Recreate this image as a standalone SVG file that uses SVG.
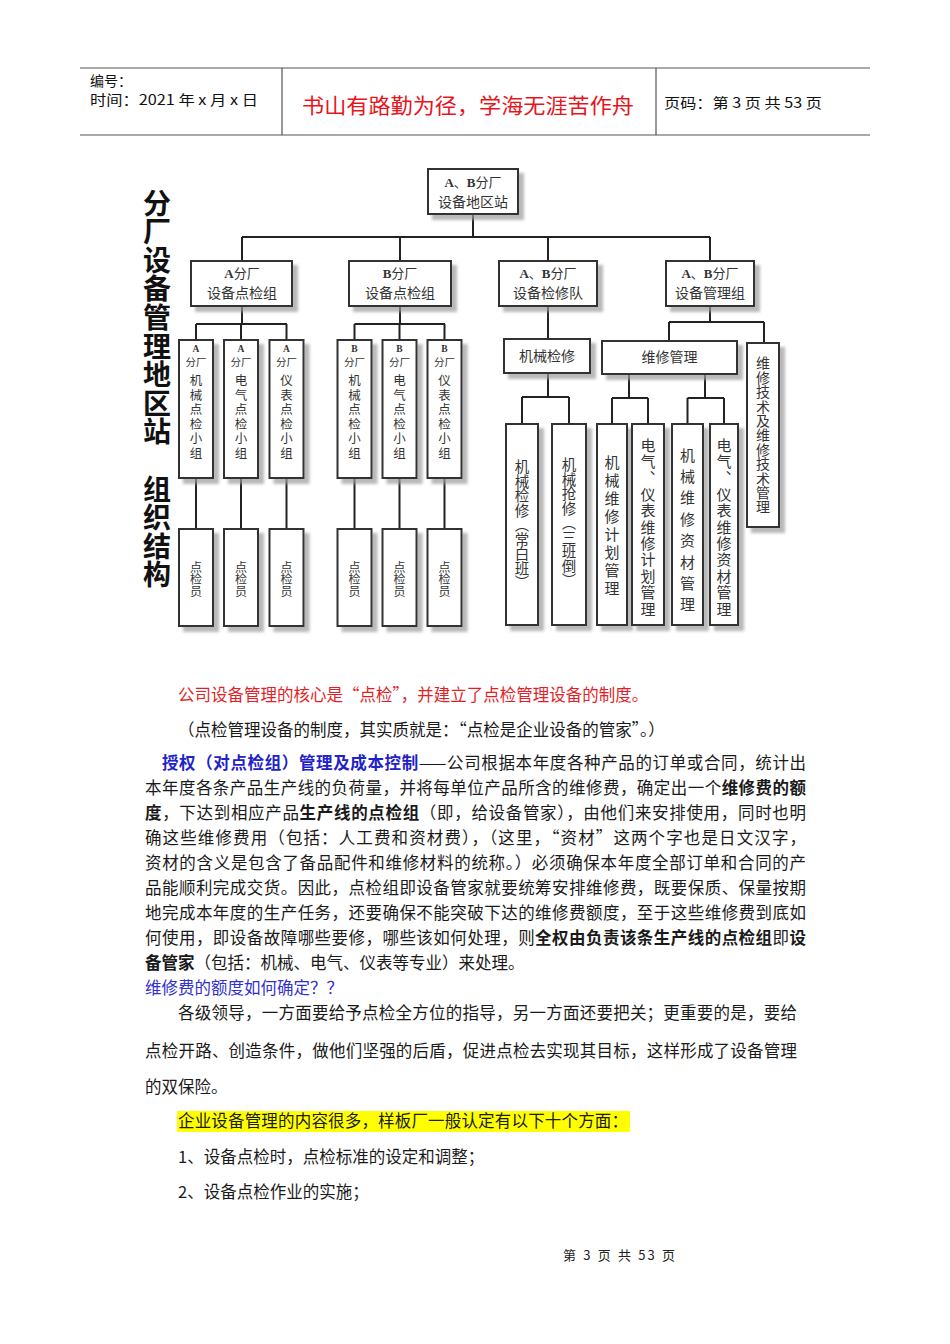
<svg xmlns="http://www.w3.org/2000/svg" width="950" height="1344" viewBox="0 0 950 1344">
<defs>
<filter id="sh" x="-10%" y="-10%" width="150%" height="140%">
<feOffset in="SourceAlpha" dx="5" dy="5" result="o"/>
<feGaussianBlur in="o" stdDeviation="1.5" result="b"/>
<feFlood flood-color="#9a9a9a" flood-opacity="0.7"/>
<feComposite in2="b" operator="in" result="s"/>
<feMerge><feMergeNode in="s"/><feMergeNode in="SourceGraphic"/></feMerge>
</filter>
</defs>
<style>
.box{fill:#fff;stroke:#333;stroke-width:2;filter:url(#sh)}
.ln{stroke:#222;stroke-width:2;fill:none}
.ot{font-family:"Noto Sans CJK SC",sans-serif;fill:#333;text-anchor:middle}
.vt{font-family:"Noto Sans CJK SC",sans-serif;fill:#333;text-anchor:start;writing-mode:vertical-rl}
.lat{font-family:"Liberation Serif",serif;font-weight:bold}
.bt{font-family:"Noto Sans CJK SC",sans-serif;font-size:16.5px;fill:#1a1a1a}
.b{font-weight:bold}
.hd{font-family:"Noto Sans CJK SC",sans-serif;font-size:14px;fill:#111}
.hl{stroke:#555;stroke-width:1.2}
</style>
<rect width="950" height="1344" fill="#fff"/>

<g id="header">
<line class="hl" x1="80" y1="68" x2="870" y2="68"/>
<line class="hl" x1="80" y1="135" x2="870" y2="135" stroke="#888"/>
<line class="hl" x1="282" y1="68" x2="282" y2="135"/>
<line class="hl" x1="656" y1="68" x2="656" y2="135"/>
<text class="hd" x="90" y="86">编号：</text>
<text class="hd" x="90" y="105" textLength="168" lengthAdjust="spacingAndGlyphs">时间：2021 年 x 月 x 日</text>
<text x="468" y="113" text-anchor="middle" font-family="Noto Sans CJK SC, sans-serif" font-size="21" fill="#e8141c" textLength="332" lengthAdjust="spacingAndGlyphs">书山有路勤为径，学海无涯苦作舟</text>
<text class="hd" x="664" y="108" textLength="158" lengthAdjust="spacingAndGlyphs">页码：第 3 页  共 53 页</text>
</g>

<g id="title">
<text class="vt" x="157" y="189" font-size="28" font-weight="bold" letter-spacing="0.6" style="fill:#111">分厂设备管理地区站　组织结构</text>
</g>

<g id="connectors">
<path class="ln" d="M473 214V237M242 237H710M242 237V261M400 237V261M548 237V261M710 237V261"/>
<path class="ln" d="M242 306V324M196 324H287M196 324V340M241 324V340M286.5 324V340"/>
<path class="ln" d="M400 306V324M354.5 324H445M354.5 324V340M399.5 324V340M444.5 324V340"/>
<path class="ln" d="M196 478V529M241 478V529M286.5 478V529M354.5 478V529M399.5 478V529M444.5 478V529"/>
<path class="ln" d="M548 306V339M548 373V397M522 397H569M522 397V424M569 397V424"/>
<path class="ln" d="M710 306V322M669 322H764M669 322V341M764 322V343"/>
<path class="ln" d="M629 374V398M612 398H648M612 398V424M648 398V424M705 374V398M687.5 398H724M687.5 398V424M724 398V424"/>
</g>

<g id="n-station">
<rect class="box" x="428" y="169" width="90" height="45"/>
<text class="ot" font-size="13"><tspan x="473" y="187"><tspan class="lat">A</tspan>、<tspan class="lat">B</tspan>分厂</tspan><tspan x="473" y="207" font-size="14">设备地区站</tspan></text>
</g>

<g id="n-a-group">
<rect class="box" x="191" y="261" width="101" height="45"/>
<text class="ot" font-size="13"><tspan x="242" y="278"><tspan class="lat">A</tspan>分厂</tspan><tspan x="242" y="298" font-size="14">设备点检组</tspan></text>
</g>
<g id="n-b-group">
<rect class="box" x="349" y="261" width="102" height="45"/>
<text class="ot" font-size="13"><tspan x="400" y="278"><tspan class="lat">B</tspan>分厂</tspan><tspan x="400" y="298" font-size="14">设备点检组</tspan></text>
</g>
<g id="n-repair-team">
<rect class="box" x="499" y="261" width="98" height="45"/>
<text class="ot" font-size="13"><tspan x="548" y="278"><tspan class="lat">A</tspan>、<tspan class="lat">B</tspan>分厂</tspan><tspan x="548" y="298" font-size="14">设备检修队</tspan></text>
</g>
<g id="n-mgmt-group">
<rect class="box" x="666" y="261" width="88" height="45"/>
<text class="ot" font-size="13"><tspan x="710" y="278"><tspan class="lat">A</tspan>、<tspan class="lat">B</tspan>分厂</tspan><tspan x="710" y="298" font-size="14">设备管理组</tspan></text>
</g>

<g id="n-a-mech">
<rect class="box" x="179" y="340" width="34" height="138"/>
<text class="ot"><tspan class="lat" x="196" y="352" font-size="9.5">A</tspan><tspan x="196" y="366" font-size="10.5">分厂</tspan></text>
<text class="vt" x="196" y="374" font-size="12.5" letter-spacing="2.1">机械点检小组</text>
</g>
<g id="n-a-elec">
<rect class="box" x="224" y="340" width="34" height="138"/>
<text class="ot"><tspan class="lat" x="241" y="352" font-size="9.5">A</tspan><tspan x="241" y="366" font-size="10.5">分厂</tspan></text>
<text class="vt" x="241" y="374" font-size="12.5" letter-spacing="2.1">电气点检小组</text>
</g>
<g id="n-a-inst">
<rect class="box" x="269.5" y="340" width="34" height="138"/>
<text class="ot"><tspan class="lat" x="286.5" y="352" font-size="9.5">A</tspan><tspan x="286.5" y="366" font-size="10.5">分厂</tspan></text>
<text class="vt" x="286.5" y="374" font-size="12.5" letter-spacing="2.1">仪表点检小组</text>
</g>
<g id="n-b-mech">
<rect class="box" x="337.5" y="340" width="34" height="138"/>
<text class="ot"><tspan class="lat" x="354.5" y="352" font-size="9.5">B</tspan><tspan x="354.5" y="366" font-size="10.5">分厂</tspan></text>
<text class="vt" x="354.5" y="374" font-size="12.5" letter-spacing="2.1">机械点检小组</text>
</g>
<g id="n-b-elec">
<rect class="box" x="382.5" y="340" width="34" height="138"/>
<text class="ot"><tspan class="lat" x="399.5" y="352" font-size="9.5">B</tspan><tspan x="399.5" y="366" font-size="10.5">分厂</tspan></text>
<text class="vt" x="399.5" y="374" font-size="12.5" letter-spacing="2.1">电气点检小组</text>
</g>
<g id="n-b-inst">
<rect class="box" x="427.5" y="340" width="34" height="138"/>
<text class="ot"><tspan class="lat" x="444.5" y="352" font-size="9.5">B</tspan><tspan x="444.5" y="366" font-size="10.5">分厂</tspan></text>
<text class="vt" x="444.5" y="374" font-size="12.5" letter-spacing="2.1">仪表点检小组</text>
</g>

<g id="n-insp-1"><rect class="box" x="179" y="529" width="34" height="97"/><text class="vt" x="196" y="561" font-size="12">点检员</text></g>
<g id="n-insp-2"><rect class="box" x="224" y="529" width="34" height="97"/><text class="vt" x="241" y="561" font-size="12">点检员</text></g>
<g id="n-insp-3"><rect class="box" x="269.5" y="529" width="34" height="97"/><text class="vt" x="286.5" y="561" font-size="12">点检员</text></g>
<g id="n-insp-4"><rect class="box" x="337.5" y="529" width="34" height="97"/><text class="vt" x="354.5" y="561" font-size="12">点检员</text></g>
<g id="n-insp-5"><rect class="box" x="382.5" y="529" width="34" height="97"/><text class="vt" x="399.5" y="561" font-size="12">点检员</text></g>
<g id="n-insp-6"><rect class="box" x="427.5" y="529" width="34" height="97"/><text class="vt" x="444.5" y="561" font-size="12">点检员</text></g>

<g id="n-mech-repair">
<rect class="box" x="504" y="339" width="86" height="34"/>
<text class="ot" x="547" y="361" font-size="14">机械检修</text>
</g>
<g id="n-maint-mgmt">
<rect class="box" x="602" y="341" width="135" height="33"/>
<text class="ot" x="669.5" y="362" font-size="14">维修管理</text>
</g>
<g id="n-tech-mgmt">
<rect class="box" x="747" y="343" width="32" height="184"/>
<text class="vt" x="763" y="356" font-size="14" letter-spacing="0.4">维修技术及维修技术管理</text>
</g>

<g id="n-day-shift">
<rect class="box" x="506" y="424" width="32" height="201"/>
<text class="vt" x="522" y="459.5" font-size="14.5">机械检修（常白班）</text>
</g>
<g id="n-three-shift">
<rect class="box" x="552" y="424" width="34" height="201"/>
<text class="vt" x="569" y="457.5" font-size="14.5">机械抢修（三班倒）</text>
</g>
<g id="n-mech-plan">
<rect class="box" x="597" y="424" width="30" height="201"/>
<text class="vt" x="612" y="454.5" font-size="15" letter-spacing="3.1">机械维修计划管理</text>
</g>
<g id="n-elec-plan">
<rect class="box" x="632" y="424" width="32" height="201"/>
<text class="vt" x="648" y="437.5" font-size="15" letter-spacing="1.4">电气、仪表维修计划管理</text>
</g>
<g id="n-mech-material">
<rect class="box" x="672" y="424" width="31" height="201"/>
<text class="vt" x="687.5" y="447.5" font-size="15" letter-spacing="6.4">机械维修资材管理</text>
</g>
<g id="n-elec-material">
<rect class="box" x="710" y="424" width="28" height="201"/>
<text class="vt" x="724" y="437.5" font-size="15" letter-spacing="1.4">电气、仪表维修资材管理</text>
</g>

<g id="body">
<text class="bt" x="178" y="701" style="fill:#e41e26">公司设备管理的核心是“点检”，并建立了点检管理设备的制度。</text>
<text class="bt" x="178" y="736">（点检管理设备的制度，其实质就是：“点检是企业设备的管家”。）</text>
<text class="bt" x="162" y="769" textLength="644" lengthAdjust="spacing"><tspan class="b" style="fill:#1e22c8">授权（对点检组）管理及成本控制</tspan>——公司根据本年度各种产品的订单或合同，统计出</text>
<text class="bt" x="145" y="794" textLength="661" lengthAdjust="spacing">本年度各条产品生产线的负荷量，并将每单位产品所含的维修费，确定出一个<tspan class="b">维修费的额</tspan></text>
<text class="bt" x="145" y="819" textLength="661" lengthAdjust="spacing"><tspan class="b">度</tspan>，下达到相应产品<tspan class="b">生产线的点检组</tspan>（即，给设备管家），由他们来安排使用，同时也明</text>
<text class="bt" x="145" y="844" textLength="661" lengthAdjust="spacing">确这些维修费用（包括：人工费和资材费），（这里，“资材”这两个字也是日文汉字，</text>
<text class="bt" x="145" y="869" textLength="661" lengthAdjust="spacing">资材的含义是包含了备品配件和维修材料的统称。）必须确保本年度全部订单和合同的产</text>
<text class="bt" x="145" y="894" textLength="661" lengthAdjust="spacing">品能顺利完成交货。因此，点检组即设备管家就要统筹安排维修费，既要保质、保量按期</text>
<text class="bt" x="145" y="919" textLength="661" lengthAdjust="spacing">地完成本年度的生产任务，还要确保不能突破下达的维修费额度，至于这些维修费到底如</text>
<text class="bt" x="145" y="944" textLength="661" lengthAdjust="spacing">何使用，即设备故障哪些要修，哪些该如何处理，则<tspan class="b">全权由负责该条生产线的点检组</tspan>即<tspan class="b">设</tspan></text>
<text class="bt" x="145" y="969"><tspan class="b">备管家</tspan>（包括：机械、电气、仪表等专业）来处理。</text>
<text class="bt" x="145" y="994" style="fill:#3030d0">维修费的额度如何确定？？</text>
<text class="bt" x="178" y="1019" textLength="619" lengthAdjust="spacing">各级领导，一方面要给予点检全方位的指导，另一方面还要把关；更重要的是，要给</text>
<text class="bt" x="145" y="1057" textLength="652" lengthAdjust="spacing">点检开路、创造条件，做他们坚强的后盾，促进点检去实现其目标，这样形成了设备管理</text>
<text class="bt" x="145" y="1093">的双保险。</text>
<rect x="177" y="1111" width="453" height="21" fill="#ffff00"/>
<text class="bt" x="178" y="1127" textLength="450" lengthAdjust="spacing">企业设备管理的内容很多，样板厂一般认定有以下十个方面：</text>
<text class="bt" x="178" y="1163">1、设备点检时，点检标准的设定和调整；</text>
<text class="bt" x="178" y="1198">2、设备点检作业的实施；</text>
</g>

<g id="footer">
<text x="563" y="1260" font-family="Noto Sans CJK SC, sans-serif" font-size="13" fill="#222" textLength="112" lengthAdjust="spacing">第 3 页 共 53 页</text>
</g>
</svg>
